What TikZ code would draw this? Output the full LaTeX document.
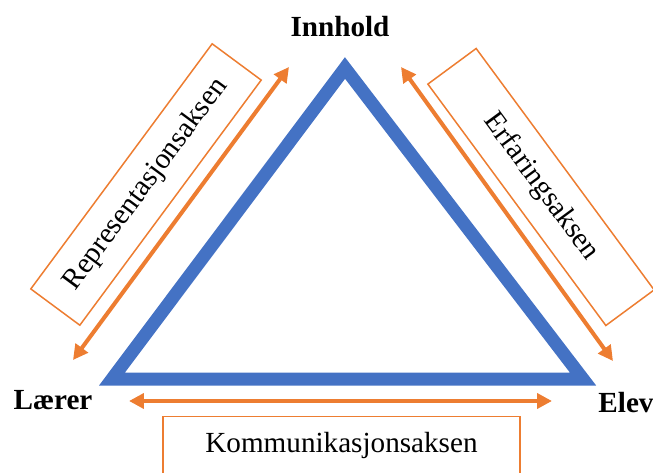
\documentclass[tikz,border=0pt]{standalone}
\usepackage{fontspec}
\setmainfont{Liberation Serif}
\usetikzlibrary{arrows.meta}
\definecolor{triblue}{RGB}{68,114,196}
\definecolor{axorange}{RGB}{237,125,49}
\tikzset{side/.style = {draw=triblue, line width=7.4pt, line join=miter},
         axisarrow/.style = {draw=axorange, line width=2.3pt, {Triangle[length=0.3cm,width=0.3cm]}-{Triangle[length=0.3cm,width=0.3cm]}},
         axbox/.style = {draw=axorange, line width=0.85pt, fill=white, rectangle, inner sep=0pt},
         corner/.style = {font=\fontsize{16.6}{20}\selectfont\bfseries},
         axlabel/.style = {font=\fontsize{16.6}{20}\selectfont}}

\begin{document}
\begin{tikzpicture}[x=0.02cm,y=-0.02cm]
        \useasboundingbox (0,0) rectangle (653,473);
        \clip (0,0) rectangle (653,473);

        \coordinate (inn) at (345,68);
        \coordinate (lar) at (112,379);
        \coordinate (elv) at (583,379);
        \draw[side] (inn) -- (lar) -- (elv) -- cycle;

        \node[corner] (innhold) at (340,27) {Innhold};
        \node[corner] (laerer) at (53,400) {Lærer};
        \node[corner] (elev) at (626,403) {Elev};

        \node[axbox, axlabel, rotate=53.5, minimum width=6.1cm, minimum height=1.22cm] (repbox) at (146,184.5) {Representasjonsaksen};
        \node[axbox, axlabel, rotate=-53.6, minimum width=6.0cm, minimum height=1.2cm] (erfbox) at (541,187) {Erfaringsaksen};
        \node[axbox, minimum width=7.14cm, minimum height=1.6cm, anchor=north] (kombox) at (341.5,416) {};
        \node[axlabel] (komtekst) at (341.5,445) {Kommunikasjonsaksen};

        \coordinate (repA) at (73,360);
        \coordinate (repB) at (289,67);
        \coordinate (erfA) at (401,67);
        \coordinate (erfB) at (613,361);
        \coordinate (komA) at (129,401);
        \coordinate (komB) at (552,401);
        \draw[axisarrow] (repA) -- (repB);
        \draw[axisarrow] (erfA) -- (erfB);
        \draw[axisarrow] (komA) -- (komB);
    \end{tikzpicture}
\end{document}
